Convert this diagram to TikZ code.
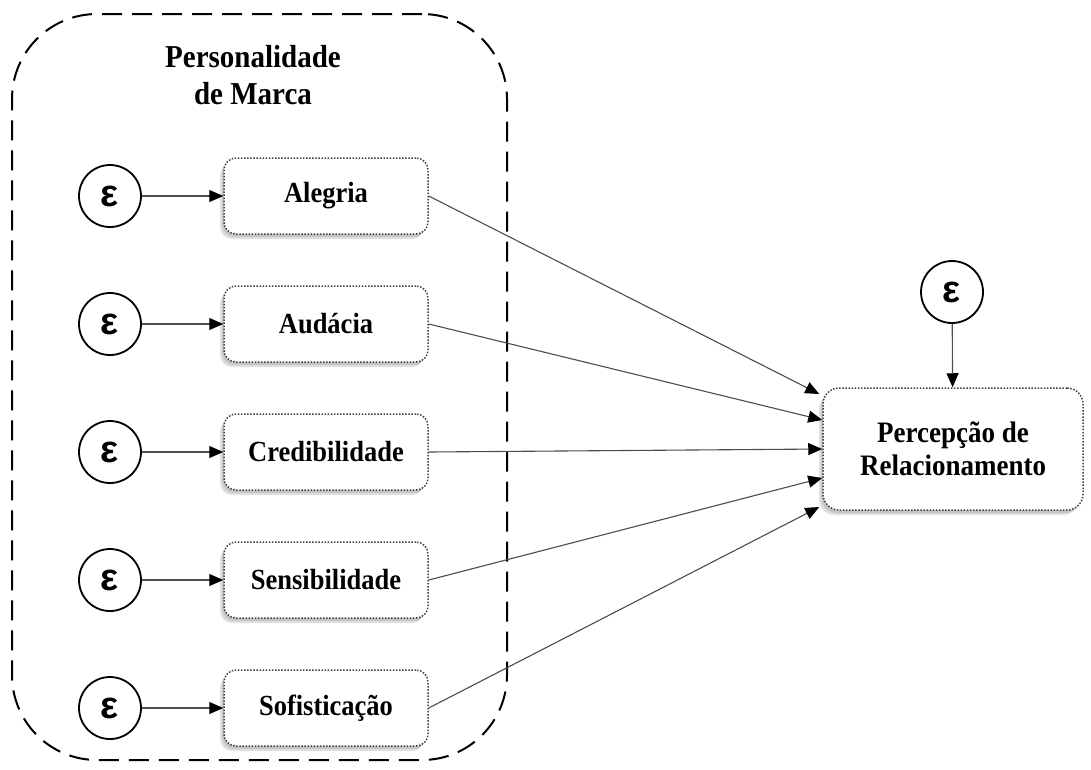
\documentclass[tikz,border=0pt]{standalone}
\usepackage{fontspec}
\usepackage{graphicx}
\setmainfont{Liberation Serif}
\newfontfamily\epsfont{Liberation Sans}
\usetikzlibrary{arrows.meta,shadows,calc}
% slightly taller lettering
\newcommand{\tall}[1]{\scalebox{1}[1.1]{#1}}

\begin{document}
\begin{tikzpicture}[x=1pt,y=-1pt,
  factor/.style={draw=black!75, line width=1.5pt, dash pattern=on 1.5pt off 1.6pt,
    rounded corners=12pt, fill=white, minimum width=204pt, minimum height=76pt,
    inner sep=2pt, align=center, font=\fontsize{26.5}{34}\selectfont\bfseries,
    drop shadow={shadow xshift=-4pt, shadow yshift=-5pt, opacity=0.12, fill=black},
    drop shadow={shadow xshift=-2pt, shadow yshift=-3pt, opacity=0.12, fill=black}},
  err/.style={circle, draw=black, line width=1.8pt, minimum size=62pt, inner sep=0pt,
    font=\epsfont\fontsize{38}{38}\selectfont\bfseries},
  group/.style={draw=black, line width=2pt, dash pattern=on 20pt off 10pt,
    rounded corners=85pt, minimum width=495pt, minimum height=746pt, inner sep=0pt},
  link/.style={draw=black!70, line width=1.1pt,
    -{Triangle[length=14pt,width=12pt,color=black]}},
  title/.style={align=center, font=\fontsize{29}{37}\selectfont\bfseries},
]
\useasboundingbox (0,0) rectangle (1091,769);

% outer dashed frame and its heading
\node[group] (G) at (259.5,387) {};
\node[title] (T) at (253,75) {\tall{Personalidade}\\\tall{de Marca}};

% brand personality dimensions
\node[factor] (f1) at (326,196) {\tall{Alegria}};
\node[factor] (f2) at (326,324) {\tall{Audácia}};
\node[factor] (f3) at (326,452) {\tall{Credibilidade}};
\node[factor] (f4) at (326,580) {\tall{Sensibilidade}};
\node[factor] (f5) at (326,708) {\tall{Sofisticação}};

% error terms
\foreach \i in {1,...,5} {
  \node[err] (e\i) at (110,{68+128*\i}) {ε};
  \draw[link] (e\i) -- (f\i);
}

% outcome construct
\node[factor, minimum width=260pt, minimum height=122pt, rounded corners=16pt,
  font=\fontsize{27}{33}\selectfont\bfseries] (P) at (953,449)
  {\tall{Percepção de}\\\tall{Relacionamento}};
\node[err] (e6) at (952,292) {ε};
\draw[link] (e6) -- (P);

% arrival points on the left side of the outcome box
\coordinate (p1) at ($(P.west)+(-3,-55)$);
\coordinate (p2) at ($(P.west)+(0,-29)$);
\coordinate (p3) at ($(P.west)+(0,0)$);
\coordinate (p4) at ($(P.west)+(0,29)$);
\coordinate (p5) at ($(P.west)+(-3,58)$);

\foreach \i in {1,...,5} {
  \draw[link] (f\i.east) -- (p\i);
}
\end{tikzpicture}
\end{document}
